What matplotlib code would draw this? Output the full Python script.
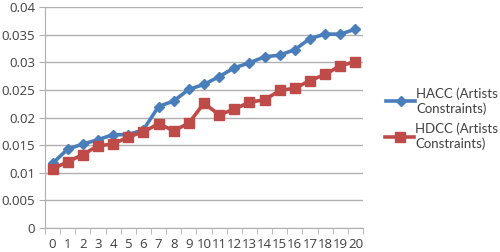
import matplotlib
matplotlib.use("Agg")
import matplotlib.pyplot as plt
import numpy as np

# Data
categories = [str(i) for i in range(21)]
hacc = [0.0117, 0.0143, 0.0152, 0.0160, 0.0169, 0.0169, 0.0178, 0.0220, 0.0230, 0.0251,
        0.0260, 0.0274, 0.0290, 0.0299, 0.0310, 0.0313, 0.0323, 0.0343, 0.0351, 0.0351, 0.0360]
hdcc = [0.0107, 0.0120, 0.0133, 0.0149, 0.0152, 0.0165, 0.0174, 0.0189, 0.0176, 0.0190,
        0.0226, 0.0205, 0.0215, 0.0228, 0.0232, 0.0249, 0.0253, 0.0267, 0.0278, 0.0294, 0.0301]
yticks = [0, 0.005, 0.01, 0.015, 0.02, 0.025, 0.03, 0.035, 0.04]
ytick_labels = ['0', '0.005', '0.01', '0.015', '0.02', '0.025', '0.03', '0.035', '0.04']

plt.rcParams['font.family'] = ['Open Sans', 'DejaVu Sans']
text_color = '#404040'
grid_color = '#B0B0B0'

fig = plt.figure(figsize=(5.0, 2.52), dpi=100)
ax = fig.add_axes([0.09, 0.095, 0.636, 0.877])

x = np.arange(len(categories))
ax.plot(x, hacc, color='#4A7EBB', linewidth=2.6, marker='D', markersize=5.5,
        label='HACC (Artists\nConstraints)', zorder=3)
ax.plot(x, hdcc, color='#BE4B48', linewidth=2.6, marker='s', markersize=7.5,
        label='HDCC (Artists\nConstraints)', zorder=3)

ax.set_xlim(-0.5, len(categories) - 0.5)
ax.set_ylim(0, 0.04)
ax.set_yticks(yticks)
ax.set_yticklabels(ytick_labels)
ax.set_xticks(x)
ax.set_xticklabels(categories)
ax.set_xticks(np.arange(-0.5, len(categories)), minor=True)

ax.grid(axis='y', color=grid_color, linewidth=1)
ax.set_axisbelow(True)
for side in ['top', 'right']:
    ax.spines[side].set_visible(False)
for side in ['left', 'bottom']:
    ax.spines[side].set_color(grid_color)

ax.tick_params(axis='x', which='major', length=0, pad=7, labelsize=9.5, colors=text_color)
ax.tick_params(axis='x', which='minor', length=4, color=grid_color, direction='out')
ax.tick_params(axis='y', length=4, color=grid_color, labelsize=9.5, colors=text_color, pad=3)

leg = fig.legend(loc='upper left', bbox_to_anchor=(0.77, 0.653), frameon=False,
                 prop={'family': ['Lato', 'DejaVu Sans'], 'size': 9.5},
                 handlelength=2.2, handletextpad=0.1, labelspacing=0.6,
                 borderpad=0, borderaxespad=0, labelcolor=text_color)
# line up the handle with the first line of its label, like Excel does
for row in leg._legend_handle_box.get_children():
    row.align = 'top'

fig.savefig('out.png', dpi=100)
